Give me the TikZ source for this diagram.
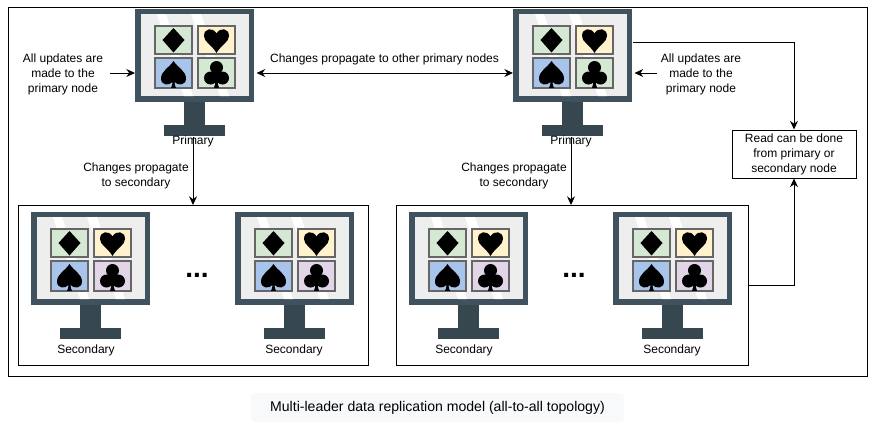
\documentclass[tikz,border=0pt]{standalone}
\usepackage{fontspec}
\setmainfont{Liberation Sans}
\usetikzlibrary{arrows.meta,calc}
\definecolor{frameC}{HTML}{3F525E}
\definecolor{standC}{HTML}{36474F}
\definecolor{screenC}{HTML}{EEEEEE}
\definecolor{tileG}{HTML}{D5E8D4}
\definecolor{tileY}{HTML}{FFF2CC}
\definecolor{tileB}{HTML}{A9C4EB}
\definecolor{tileP}{HTML}{E1D5E7}
\definecolor{tileE}{HTML}{666666}
\definecolor{capC}{HTML}{F8F9FB}
\tikzset{
  x=0.75pt,y=-0.75pt,
  conn/.style={draw=black,line width=0.75pt,-{Stealth[length=6.5pt,width=6pt]}},
  conn2/.style={draw=black,line width=0.75pt,{Stealth[length=6.5pt,width=6pt]}-{Stealth[length=6.5pt,width=6pt]}},
  plainbox/.style={draw=black,line width=0.75pt,fill=white},
  lbl/.style={font=\fontsize{9pt}{11.2pt}\selectfont,align=center,inner sep=0pt,text=black},
  dots/.style={font=\fontsize{21pt}{21pt}\selectfont\bfseries,inner sep=0pt,anchor=base,text=black},
  framebox/.style={inner sep=0pt,minimum width=89.25pt,minimum height=69.75pt},
  tile/.style={draw=tileE,line width=0.9pt},
  pics/monitor/.style={code={
    \fill[standC] (49,93) rectangle (70,117);
    \fill[standC] (29,116) rectangle (90,127);
    \fill[frameC] (0,0) rectangle (119,93);
    \fill[screenC] (6,5) rectangle (114,87);
    \fill[white] (22,5) -- (31,5) -- (58,87) -- (49,87) -- cycle;
    \fill[white] (56,5) -- (66,5) -- (94,87) -- (85,87) -- cycle;
    \draw[tile,fill=tileG] (20,17) rectangle (57,45);
    \draw[tile,fill=tileY] (63,17) rectangle (100,45);
    \draw[tile,fill=tileB] (20,49) rectangle (57,79);
    \draw[tile,fill=#1] (63,49) rectangle (100,79);
    % diamond
    \fill[black] (38.5,19) -- (49.5,31) -- (38.5,43.5) -- (27.5,31) -- cycle;
    % heart
    \fill[black] (81.5,44) .. controls (77,36) and (69,33) .. (69,27)
       .. controls (69,19) and (78,18) .. (81.5,24.5)
       .. controls (85,18) and (94,19) .. (94,27)
       .. controls (94,33) and (86,36) .. (81.5,44) -- cycle;
    % spade
    \fill[black] (38.5,52) .. controls (34,59) and (26,62) .. (26,69.5)
       .. controls (26,76.5) and (34,77) .. (37.5,73)
       .. controls (37.5,75) and (37,77) .. (36,78.8) -- (41,78.8)
       .. controls (40,77) and (39.5,75) .. (39.5,73)
       .. controls (43,77) and (51,76.5) .. (51,69.5)
       .. controls (51,62) and (43,59) .. (38.5,52) -- cycle;
    % club
    \fill[black] (81.5,58.5) circle[radius=6.5];
    \fill[black] (75.5,69) circle[radius=6.5];
    \fill[black] (87.5,69) circle[radius=6.5];
    \fill[black] (79,62) rectangle (84,70);
    \fill[black] (80.5,66) .. controls (80.5,73) and (80,76) .. (79,78.8) -- (84,78.8)
       .. controls (83,76) and (82.5,73) .. (82.5,66) -- cycle;
  }},
}
\begin{document}
\begin{tikzpicture}
\useasboundingbox (0,0) rectangle (881,425);
\fill[white] (0,0) rectangle (881,425);
\node[draw=black,line width=0.75pt,minimum width=644.25pt,minimum height=276.75pt,inner sep=0pt,anchor=north west] (outer) at (8,7) {};
\node[plainbox,minimum width=262.5pt,minimum height=120pt,inner sep=0pt,anchor=north west] (cont1) at (18,205) {};
\node[plainbox,minimum width=264pt,minimum height=120pt,inner sep=0pt,anchor=north west] (cont2) at (396,205) {};

\node[framebox,anchor=north west] (m1) at (135,9) {};
\node[framebox,anchor=north west] (m2) at (513,9) {};
\node[framebox,anchor=north west] (s1) at (31,212) {};
\node[framebox,anchor=north west] (s2) at (235,212) {};
\node[framebox,anchor=north west] (s3) at (409,212) {};
\node[framebox,anchor=north west] (s4) at (613,212) {};
\pic at (135,9) {monitor=tileG};
\pic at (513,9) {monitor=tileG};
\pic at (31,212) {monitor=tileP};
\pic at (235,212) {monitor=tileP};
\pic at (409,212) {monitor=tileP};
\pic at (613,212) {monitor=tileP};

\node[lbl] (pl1) at (193,141) {Primary};
\node[lbl] (pl2) at (571,141) {Primary};
\node[lbl] (sl1) at (86,350) {Secondary};
\node[lbl] (sl2) at (294,350) {Secondary};
\node[lbl] (sl3) at (464,350) {Secondary};
\node[lbl] (sl4) at (672,350) {Secondary};

\node[dots] (d1) at (197,277) {...};
\node[dots] (d2) at (574,277) {...};

\node[lbl] (u1) at (63,74) {All updates are\\made to the\\primary node};
\node[lbl] (u2) at (701,74) {All updates are\\made to the\\primary node};
\node[lbl] (prop) at (384.5,59) {Changes propagate to other primary nodes};
\node[lbl] (c1) at (136,175.5) {Changes propagate\\to secondary};
\node[lbl] (c2) at (514,175.5) {Changes propagate\\to secondary};
\node[lbl,draw=black,line width=0.75pt,fill=white,minimum width=93pt,minimum height=36pt] (read) at (794,154) {Read can be done\\from primary or\\secondary node};

\coordinate (j1) at ($(m2.east)+(0,-13.5)$);
\coordinate (j2) at (748,285);
\coordinate (ph) at (0,73);

\draw[conn] ($(ph -| u1.east)+(7,0)$) -- (ph -| m1.west);
\draw[conn] ($(ph -| u2.west)+(-4,0)$) -- ($(ph -| m2.east)+(2,0)$);
\draw[conn2] ($(ph -| m1.east)+(2,0)$) -- (ph -| m2.west);
\draw[conn] (193,137) -- (193,205);
\draw[conn] (571,137) -- (571,205);
\draw[conn] (j1) -| (read.north);
\draw[conn] (j2) -| (read.south);

\node[fill=capC,rounded corners=3pt,minimum width=279.75pt,minimum height=21.75pt,inner sep=0pt,font=\fontsize{10.55pt}{12pt}\selectfont] (cap) at (437.5,407.5) {Multi-leader data replication model (all-to-all topology)};
\end{tikzpicture}
\end{document}
